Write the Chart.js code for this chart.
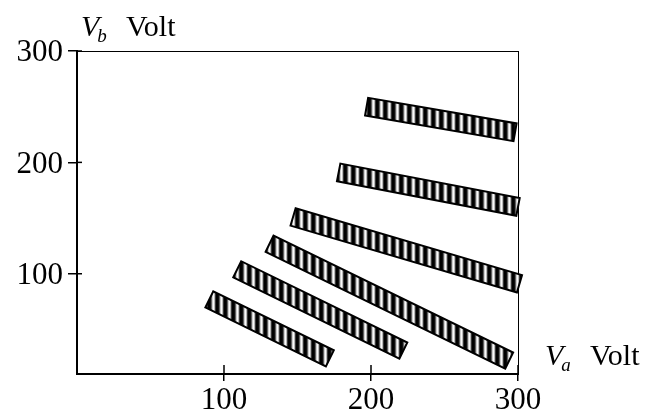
<!DOCTYPE html>
<html>
<head>
<meta charset="utf-8">
<script src="https://cdn.jsdelivr.net/npm/chart.js@4.4.1/dist/chart.umd.min.js"></script>
<style>
html, body { margin: 0; padding: 0; background: #fff; }
#wrap { width: 647px; height: 412px; }
</style>
</head>
<body>
<div id="wrap"><canvas id="chart"></canvas></div>
<script>
// tick values
const xTicks = [100, 200, 300];
const yTicks = [100, 200, 300];

// each band: centre line from (startX,startY) to (endX,endY), in volts
const bandStartX = [197, 178, 147, 131, 109, 90];
const bandStartY = [250, 191, 151, 127, 104, 77];
const bandEndX = [298, 300, 301, 294, 222, 172];
const bandEndY = [227, 160, 91, 22, 31, 24];

const serif = "'Liberation Serif', 'DejaVu Serif', serif";

// vertical black/white stripes, one column per pixel of an 8px period
const stripeShades = [0, 0, 15, 95, 205, 250, 185, 55];

function stripePattern() {
    const c = document.createElement('canvas');
    c.width = stripeShades.length;
    c.height = 1;
    const g = c.getContext('2d');
    const img = g.createImageData(c.width, 1);
    stripeShades.forEach((v, i) => {
        img.data[i * 4] = v;
        img.data[i * 4 + 1] = v;
        img.data[i * 4 + 2] = v;
        img.data[i * 4 + 3] = 255;
    });
    g.putImageData(img, 0, 0);
    return g.createPattern(c, 'repeat');
}
const pattern = stripePattern();

const bandPlugin = {
    id: 'bands',
    afterDatasetsDraw(chart) {
        const ctx = chart.ctx;
        const half = 9;
        chart.data.datasets.forEach((ds, i) => {
            const pts = chart.getDatasetMeta(i).data;
            const a = pts[0], b = pts[1];
            const dx = b.x - a.x, dy = b.y - a.y;
            const len = Math.hypot(dx, dy);
            const nx = -dy / len * half, ny = dx / len * half;
            ctx.save();
            ctx.beginPath();
            ctx.moveTo(a.x + nx, a.y + ny);
            ctx.lineTo(b.x + nx, b.y + ny);
            ctx.lineTo(b.x - nx, b.y - ny);
            ctx.lineTo(a.x - nx, a.y - ny);
            ctx.closePath();
            ctx.fillStyle = pattern;
            ctx.fill();
            ctx.lineWidth = 2;
            ctx.lineJoin = 'miter';
            ctx.strokeStyle = '#000';
            ctx.stroke();
            ctx.restore();
        });
    }
};

// inner part of tick marks + axis titles
const extrasPlugin = {
    id: 'extras',
    afterDraw(chart) {
        const ctx = chart.ctx;
        const area = chart.chartArea;
        const xs = chart.scales.x, ys = chart.scales.y;
        ctx.save();
        ctx.strokeStyle = '#000';
        ctx.lineWidth = 1.5;
        xTicks.forEach(v => {
            const px = xs.getPixelForValue(v);
            ctx.beginPath();
            ctx.moveTo(px, area.bottom);
            ctx.lineTo(px, area.bottom - 9);
            ctx.stroke();
        });
        yTicks.forEach(v => {
            const py = ys.getPixelForValue(v);
            ctx.beginPath();
            ctx.moveTo(area.left, py);
            ctx.lineTo(area.left + 5, py);
            ctx.stroke();
        });

        ctx.fillStyle = '#000';
        ctx.textBaseline = 'alphabetic';
        ctx.textAlign = 'left';
        function title(x, y, sub) {
            ctx.font = 'italic 30px ' + serif;
            ctx.fillText('V', x, y);
            const w = ctx.measureText('V').width;
            ctx.font = 'italic 19px ' + serif;
            ctx.fillText(sub, x + w - 2, y + 6);
            ctx.font = '30px ' + serif;
            ctx.fillText('Volt', x + 45, y);
        }
        title(81, 36, 'b');
        title(545, 365, 'a');
        ctx.restore();
    }
};

const datasets = bandStartX.map((sx, i) => ({
    label: 'band ' + (i + 1),
    data: [{ x: sx, y: bandStartY[i] }, { x: bandEndX[i], y: bandEndY[i] }],
    showLine: false,
    pointRadius: 0,
    clip: false
}));

new Chart(document.getElementById('chart'), {
    type: 'line',
    data: { datasets: datasets },
    options: {
        responsive: true,
        maintainAspectRatio: false,
        animation: false,
        events: [],
        layout: { padding: { top: 51, right: 129, left: 0, bottom: 0 } },
        plugins: { legend: { display: false }, tooltip: { enabled: false } },
        scales: {
            x: {
                type: 'linear',
                min: 0,
                max: 300,
                afterBuildTicks: s => { s.ticks = xTicks.map(v => ({ value: v })); },
                afterFit: s => { s.height = 38; },
                grid: { drawOnChartArea: false, tickLength: 7, color: '#000', lineWidth: 1.5 },
                border: { color: '#000', width: 2 },
                ticks: { color: '#000', font: { family: serif, size: 31 }, padding: 1, maxRotation: 0 }
            },
            y: {
                type: 'linear',
                min: 10,
                max: 300,
                afterBuildTicks: s => { s.ticks = yTicks.map(v => ({ value: v })); },
                afterFit: s => { s.width = 77; },
                grid: { drawOnChartArea: false, tickLength: 9, color: '#000', lineWidth: 1.5 },
                border: { color: '#000', width: 2 },
                ticks: { color: '#000', font: { family: serif, size: 31 }, padding: 5, labelOffset: 2 }
            },
            x2: {
                type: 'linear',
                position: 'top',
                min: 0,
                max: 300,
                afterFit: s => { s.height = 0; },
                grid: { drawOnChartArea: false, drawTicks: false },
                border: { color: '#000', width: 1 },
                ticks: { display: false }
            },
            y2: {
                type: 'linear',
                position: 'right',
                min: 10,
                max: 300,
                afterFit: s => { s.width = 0; },
                grid: { drawOnChartArea: false, drawTicks: false },
                border: { color: '#000', width: 1 },
                ticks: { display: false }
            }
        }
    },
    plugins: [bandPlugin, extrasPlugin]
});
</script>
</body>
</html>
